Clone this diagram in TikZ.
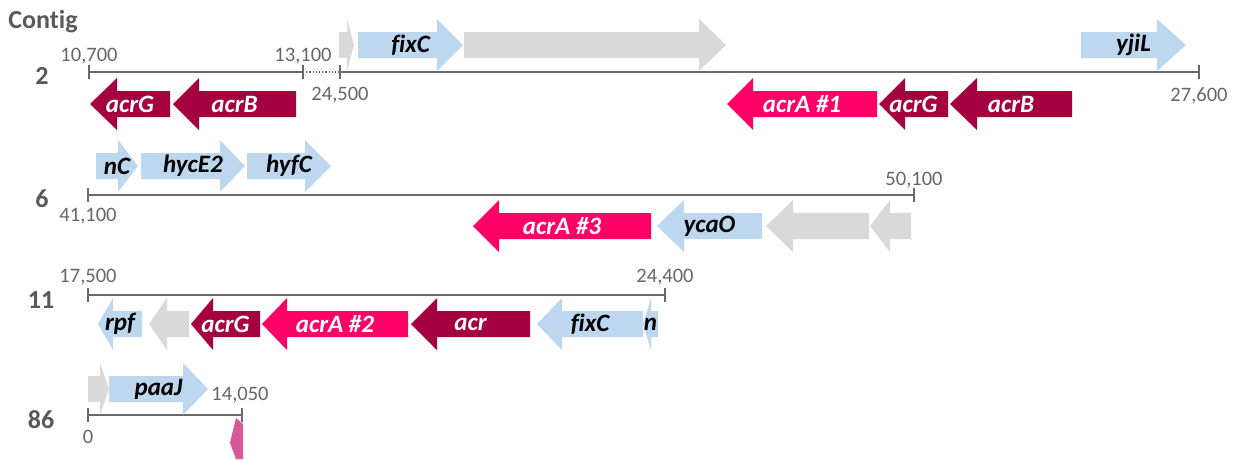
\documentclass[tikz,border=0pt]{standalone}
\usepackage{fontspec}
\setmainfont{Carlito}[Ligatures=CommonOff]
\definecolor{gblue}{HTML}{BDD7EE}
\definecolor{ggrey}{HTML}{D9D9D9}
\definecolor{gdark}{HTML}{A5003F}
\definecolor{gpink}{HTML}{FF0066}
\definecolor{gmag}{HTML}{D65A9A}
\definecolor{txtgrey}{HTML}{595959}
\definecolor{numgrey}{HTML}{666666}
\definecolor{axisgrey}{HTML}{6A6A6A}
\tikzset{
  genelabel/.style={font=\fontsize{25}{27}\selectfont\bfseries\itshape, inner sep=0pt},
  numlabel/.style={font=\fontsize{20.5}{23}\selectfont, text=numgrey, inner sep=0pt},
  contiglabel/.style={font=\fontsize{26}{29}\selectfont\bfseries, text=txtgrey, inner sep=0pt},
  axisline/.style={draw=axisgrey, line width=1.6pt},
  tickline/.style={draw=axisgrey, line width=1.4pt},
}
% #1 tail x, #2 head base x, #3 tip x, #4 centre y, #5 fill, #6 text colour, #7 label, #8 name
\newcommand\genearrow[8]{%
  \fill[#5] (#1,#4-13) -- (#2,#4-13) -- (#2,#4-26) -- (#3,#4) -- (#2,#4+26) -- (#2,#4+13) -- (#1,#4+13) -- cycle;
  \node[genelabel,text=#6] (#8) at ({(#1+#3)/2},#4) {#7};}
\newcommand\tickat[2]{\draw[tickline] (#1,#2-7) -- (#1,#2+7);}
\begin{document}
\begin{tikzpicture}[x=1pt,y=-1pt]
\useasboundingbox (0,0) rectangle (1237,459);

\node[contiglabel] (contig) at (43,22) {Contig};

% ---------- Contig 2 ----------
\node[contiglabel] (c2) at (42,76) {2};
\coordinate (a2s) at (89,72);
\coordinate (a2b) at (303,72);
\coordinate (a2c) at (340,72);
\coordinate (a2e) at (1199,72);
\draw[axisline] (a2s) -- (a2b);
\draw[axisline, line width=1.2pt, dotted] (a2b) -- (a2c);
\draw[axisline] (a2c) -- (a2e);
\tickat{89}{72}\tickat{303}{72}\tickat{340}{72}\tickat{1199}{72}
\node[numlabel] (n2a) at (89,56) {10,700};
\node[numlabel] (n2b) at (303,56) {13,100};
\node[numlabel] (n2c) at (340,95) {24,500};
\node[numlabel] (n2d) at (1199,96) {27,600};

\genearrow{339}{347}{354}{45}{ggrey}{black}{}{g2a}
\genearrow{358}{437}{463}{45}{gblue}{black}{fixC}{g2b}
\genearrow{464}{699}{726}{45}{ggrey}{black}{}{g2c}
\genearrow{1081}{1157}{1186}{45}{gblue}{black}{yjiL}{g2d}

\genearrow{170}{117}{90}{104}{gdark}{white}{acrG}{g2e}
\genearrow{296}{199}{173}{104}{gdark}{white}{acrB}{g2f}
\genearrow{877}{753}{727}{104}{gpink}{white}{acrA \#1}{g2g}
\genearrow{948}{905}{879}{104}{gdark}{white}{acrG}{g2h}
\genearrow{1072}{977}{950}{104}{gdark}{white}{acrB}{g2i}

% ---------- Contig 6 ----------
\node[contiglabel] (c6) at (42,199) {6};
\coordinate (a6s) at (88,195);
\coordinate (a6e) at (914,195);
\draw[axisline] (a6s) -- (a6e);
\tickat{88}{195}\tickat{914}{195}
\node[numlabel] (n6a) at (88,216) {41,100};
\node[numlabel] (n6b) at (914,180) {50,100};

\genearrow{96}{118}{138}{166}{gblue}{black}{nC}{g6a}
\genearrow{141}{220}{245}{166}{gblue}{black}{hycE2}{g6b}
\genearrow{247}{305}{331}{166}{gblue}{black}{hyfC}{g6c}

\genearrow{651}{499}{473}{226}{gpink}{white}{acrA \#3}{g6d}
\genearrow{762}{684}{657}{226}{gblue}{black}{ycaO}{g6e}
\genearrow{869}{793}{766}{226}{ggrey}{black}{}{g6f}
\genearrow{911}{890}{870}{226}{ggrey}{black}{}{g6g}

% ---------- Contig 11 ----------
\node[contiglabel] (c11) at (41,300) {11};
\coordinate (a11s) at (88,295);
\coordinate (a11e) at (665,295);
\draw[axisline] (a11s) -- (a11e);
\tickat{88}{295}\tickat{665}{295}
\node[numlabel] (n11a) at (88,277) {17,500};
\node[numlabel] (n11b) at (665,277) {24,400};

\genearrow{142}{113}{98}{324}{gblue}{black}{rpf}{g11a}
\genearrow{189}{167}{149}{324}{ggrey}{black}{}{g11b}
\genearrow{260}{213}{191}{324}{gdark}{white}{acrG}{g11c}
\genearrow{408}{287}{262}{324}{gpink}{white}{acrA \#2}{g11d}
\genearrow{530}{437}{411}{324}{gdark}{white}{acr}{g11e}
\genearrow{643}{562}{537}{324}{gblue}{black}{fixC}{g11f}
\genearrow{658}{651}{643}{324}{gblue}{black}{n}{g11g}

% ---------- Contig 86 ----------
\node[contiglabel] (c86) at (41,420) {86};
\coordinate (a86s) at (88,415);
\coordinate (a86e) at (242,415);
\draw[axisline] (a86s) -- (a86e);
\tickat{88}{415}\tickat{242}{415}
\node[numlabel] (n86a) at (88,437) {0};
\node[numlabel] (n86b) at (240,395) {14,050};

\genearrow{88}{100}{109}{389}{ggrey}{black}{}{g86a}
\genearrow{109}{183}{208}{389}{gblue}{black}{paaJ}{g86b}

\fill[gmag] (236,418) -- (243,424) -- (243,459) -- (236,459) -- (230,443) -- (233,430) -- cycle;
\end{tikzpicture}
\end{document}
